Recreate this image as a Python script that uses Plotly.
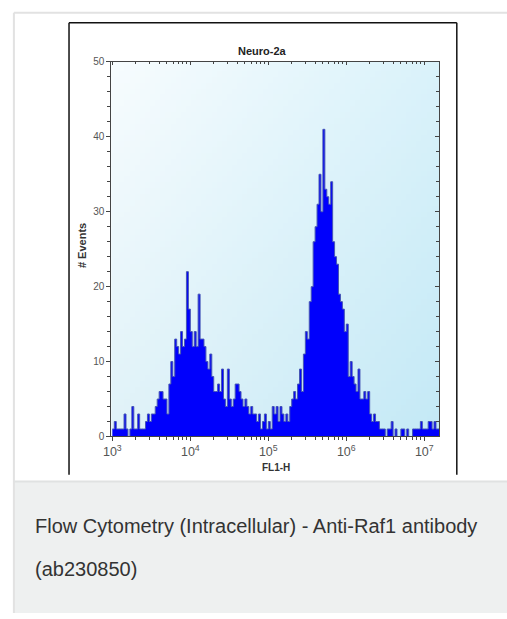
import base64, struct, zlib
import numpy as np
import plotly.graph_objects as go

# ---------------- data ----------------
log_start = 3.0          # first channel edge, log10(FL1-H)
bin_width = 0.025        # channel width in decades
counts = [
    1, 2, 1, 1, 1, 1, 3, 1, 0, 1,
    4, 1, 1, 3, 1, 1, 1, 2, 3, 2,
    3, 3, 4, 5, 6, 6, 5, 5, 3, 7,
    10, 8, 13, 12, 11, 14, 12, 13, 22, 17,
    14, 12, 14, 12, 19, 13, 13, 12, 10, 9,
    11, 8, 6, 6, 7, 6, 9, 5, 4, 9,
    5, 4, 5, 7, 7, 6, 5, 4, 5, 4,
    3, 4, 3, 3, 2, 3, 1, 2, 3, 1,
    2, 1, 4, 3, 4, 2, 4, 3, 2, 3,
    2, 4, 5, 6, 5, 7, 9, 6, 11, 14,
    13, 18, 20, 26, 28, 31, 35, 30, 41, 33,
    32, 31, 34, 26, 24, 23, 19, 18, 17, 14,
    15, 8, 10, 8, 7, 6, 9, 5, 5, 6,
    5, 6, 3, 2, 3, 2, 2, 1, 1, 1,
    0, 1, 1, 2, 0, 1, 0, 0, 1, 1,
    0, 1, 0, 0, 1, 1, 1, 1, 2, 1,
    1, 1, 2, 2, 1, 2, 1, 1,
]
y_ticks = [0, 10, 20, 30, 40, 50]
title_text = "Neuro-2a"
x_title = "FL1-H"
y_title = "# Events"
caption_lines = ["Flow Cytometry (Intracellular) - Anti-Raf1 antibody", "(ab230850)"]

# ---------------- geometry helpers ----------------
W, H = 507, 619
def fx(x):
    return x / W
def fy(y):
    return 1 - y / H

# step outline for the histogram
edges = log_start + bin_width * np.arange(len(counts) + 1)
xs = 10 ** edges
ys = list(counts) + [counts[-1]]

# ---------------- gradient background image (pure python PNG) ----------------
def gradient_png(w=64, h=64):
    tl = np.array([247, 252, 254], float)
    tr = np.array([218, 242, 250], float)
    bl = np.array([224, 242, 248], float)
    br = np.array([196, 233, 246], float)
    raw = b""
    for j in range(h):
        v = j / (h - 1)
        row = bytearray([0])
        for i in range(w):
            u = i / (w - 1)
            c = (1 - u) * (1 - v) * tl + u * (1 - v) * tr + (1 - u) * v * bl + u * v * br
            row += bytes(int(round(k)) for k in c)
        raw += bytes(row)
    def chunk(tag, data):
        return struct.pack(">I", len(data)) + tag + data + struct.pack(">I", zlib.crc32(tag + data) & 0xffffffff)
    png = b"\x89PNG\r\n\x1a\n" + chunk(b"IHDR", struct.pack(">IIBBBBB", w, h, 8, 2, 0, 0, 0))
    png += chunk(b"IDAT", zlib.compress(raw, 9)) + chunk(b"IEND", b"")
    return "data:image/png;base64," + base64.b64encode(png).decode()

# plot area in pixels
PL, PR, PT, PB = 105, 438, 57, 439
xdom = [fx(PL), fx(PR)]
ydom = [fy(PB), fy(PT)]
xrange_log = [2.987, 7.19]

fig = go.Figure()
fig.add_trace(go.Scatter(
    x=xs, y=ys, mode="lines", line=dict(shape="hv", color="#4656b4", width=1),
    fill="tozeroy", fillcolor="#0000fc", hoverinfo="skip", showlegend=False,
))
# empty trace to activate mirrored (inside-tick) axes
fig.add_trace(go.Scatter(x=[], y=[], xaxis="x2", yaxis="y2", showlegend=False, hoverinfo="skip"))

FONT = "Liberation Sans, Arial, sans-serif"
axis_font = dict(family=FONT, size=10, color="#555555")
fig.update_layout(
    width=W, height=H,
    margin=dict(l=0, r=0, t=0, b=0),
    paper_bgcolor="white",
    plot_bgcolor="rgba(0,0,0,0)",
    showlegend=False,
    xaxis=dict(
        type="log", domain=xdom, range=xrange_log, dtick=1, exponentformat="power",
        showgrid=False, zeroline=False, showline=True, linecolor="#444444", linewidth=1,
        ticks="outside", ticklen=4, tickcolor="#444444", tickfont=axis_font,
        minor=dict(ticks="outside", ticklen=3, tickcolor="#444444", showgrid=False),
        mirror=True, anchor="y", fixedrange=True,
    ),
    yaxis=dict(
        domain=ydom, range=[0, 50], tickvals=y_ticks,
        showgrid=False, zeroline=False, showline=True, linecolor="#444444", linewidth=1,
        ticks="outside", ticklen=4, tickcolor="#444444", tickfont=axis_font,
        minor=dict(ticks="outside", ticklen=3, dtick=2, tickcolor="#444444", showgrid=False),
        mirror=True, anchor="x", fixedrange=True,
    ),
    xaxis2=dict(
        type="log", overlaying="x", side="top", range=xrange_log, dtick=1,
        showgrid=False, zeroline=False, showline=False, showticklabels=False,
        ticks="inside", ticklen=3, tickcolor="#444444",
        minor=dict(ticks="inside", ticklen=2, tickcolor="#444444", showgrid=False),
        anchor="y2", fixedrange=True,
    ),
    yaxis2=dict(
        overlaying="y", side="right", range=[0, 50], tickvals=y_ticks,
        showgrid=False, zeroline=False, showline=False, showticklabels=False,
        ticks="inside", ticklen=4, tickcolor="#444444",
        minor=dict(ticks="inside", ticklen=3, dtick=2, tickcolor="#444444", showgrid=False),
        anchor="x2", fixedrange=True,
    ),
)

fig.add_layout_image(dict(
    source=gradient_png(), xref="paper", yref="paper",
    x=xdom[0], y=ydom[1], sizex=xdom[1] - xdom[0], sizey=ydom[1] - ydom[0],
    xanchor="left", yanchor="top", sizing="stretch", layer="below",
))

shapes = [
    # caption panel
    dict(type="rect", xref="paper", yref="paper", x0=fx(6), x1=1.0, y0=0, y1=fy(485),
         fillcolor="#eef0f0", line=dict(width=0), layer="below"),
    # card outline (light gray)
    dict(type="line", xref="paper", yref="paper", x0=fx(6), x1=fx(6), y0=0, y1=fy(7),
         line=dict(color="#e2e2e2", width=2)),
    dict(type="line", xref="paper", yref="paper", x0=fx(6), x1=1.0, y0=fy(7), y1=fy(7),
         line=dict(color="#e2e2e2", width=2)),
    dict(type="line", xref="paper", yref="paper", x0=fx(6), x1=1.0, y0=fy(485), y1=fy(485),
         line=dict(color="#e0e2e2", width=2)),
    # image frame (black)
    dict(type="line", xref="paper", yref="paper", x0=fx(62), x1=fx(456), y0=fy(17), y1=fy(17),
         line=dict(color="#111111", width=1.5)),
    dict(type="line", xref="paper", yref="paper", x0=fx(62), x1=fx(62), y0=fy(17), y1=fy(478),
         line=dict(color="#111111", width=1.5)),
    dict(type="line", xref="paper", yref="paper", x0=fx(456), x1=fx(456), y0=fy(17), y1=fy(478),
         line=dict(color="#111111", width=1.5)),
]
fig.update_layout(shapes=shapes)

annotations = [
    dict(text="<b>" + title_text + "</b>", x=fx(259), y=fy(46), xref="paper", yref="paper",
         showarrow=False, font=dict(family=FONT, size=11, color="#222222"),
         xanchor="center", yanchor="middle"),
    dict(text="<b>" + x_title + "</b>", x=fx(272), y=fy(471), xref="paper", yref="paper",
         showarrow=False, font=dict(family=FONT, size=10, color="#333333"),
         xanchor="center", yanchor="middle"),
    dict(text="<b>" + y_title + "</b>", x=fx(75), y=fy(244), xref="paper", yref="paper",
         showarrow=False, font=dict(family=FONT, size=11, color="#333333"), textangle=-90,
         xanchor="center", yanchor="middle"),
    dict(text=caption_lines[0], x=fx(25), y=fy(530), xref="paper", yref="paper",
         showarrow=False, font=dict(family=FONT, size=20, color="#333333"),
         xanchor="left", yanchor="middle"),
    dict(text=caption_lines[1], x=fx(25), y=fy(574), xref="paper", yref="paper",
         showarrow=False, font=dict(family=FONT, size=20, color="#333333"),
         xanchor="left", yanchor="middle"),
]
fig.update_layout(annotations=annotations)

fig.write_html(
    "out.html",
    config={"displayModeBar": False, "staticPlot": True},
    post_script="document.body.style.margin='0';document.body.style.overflow='hidden';",
)
